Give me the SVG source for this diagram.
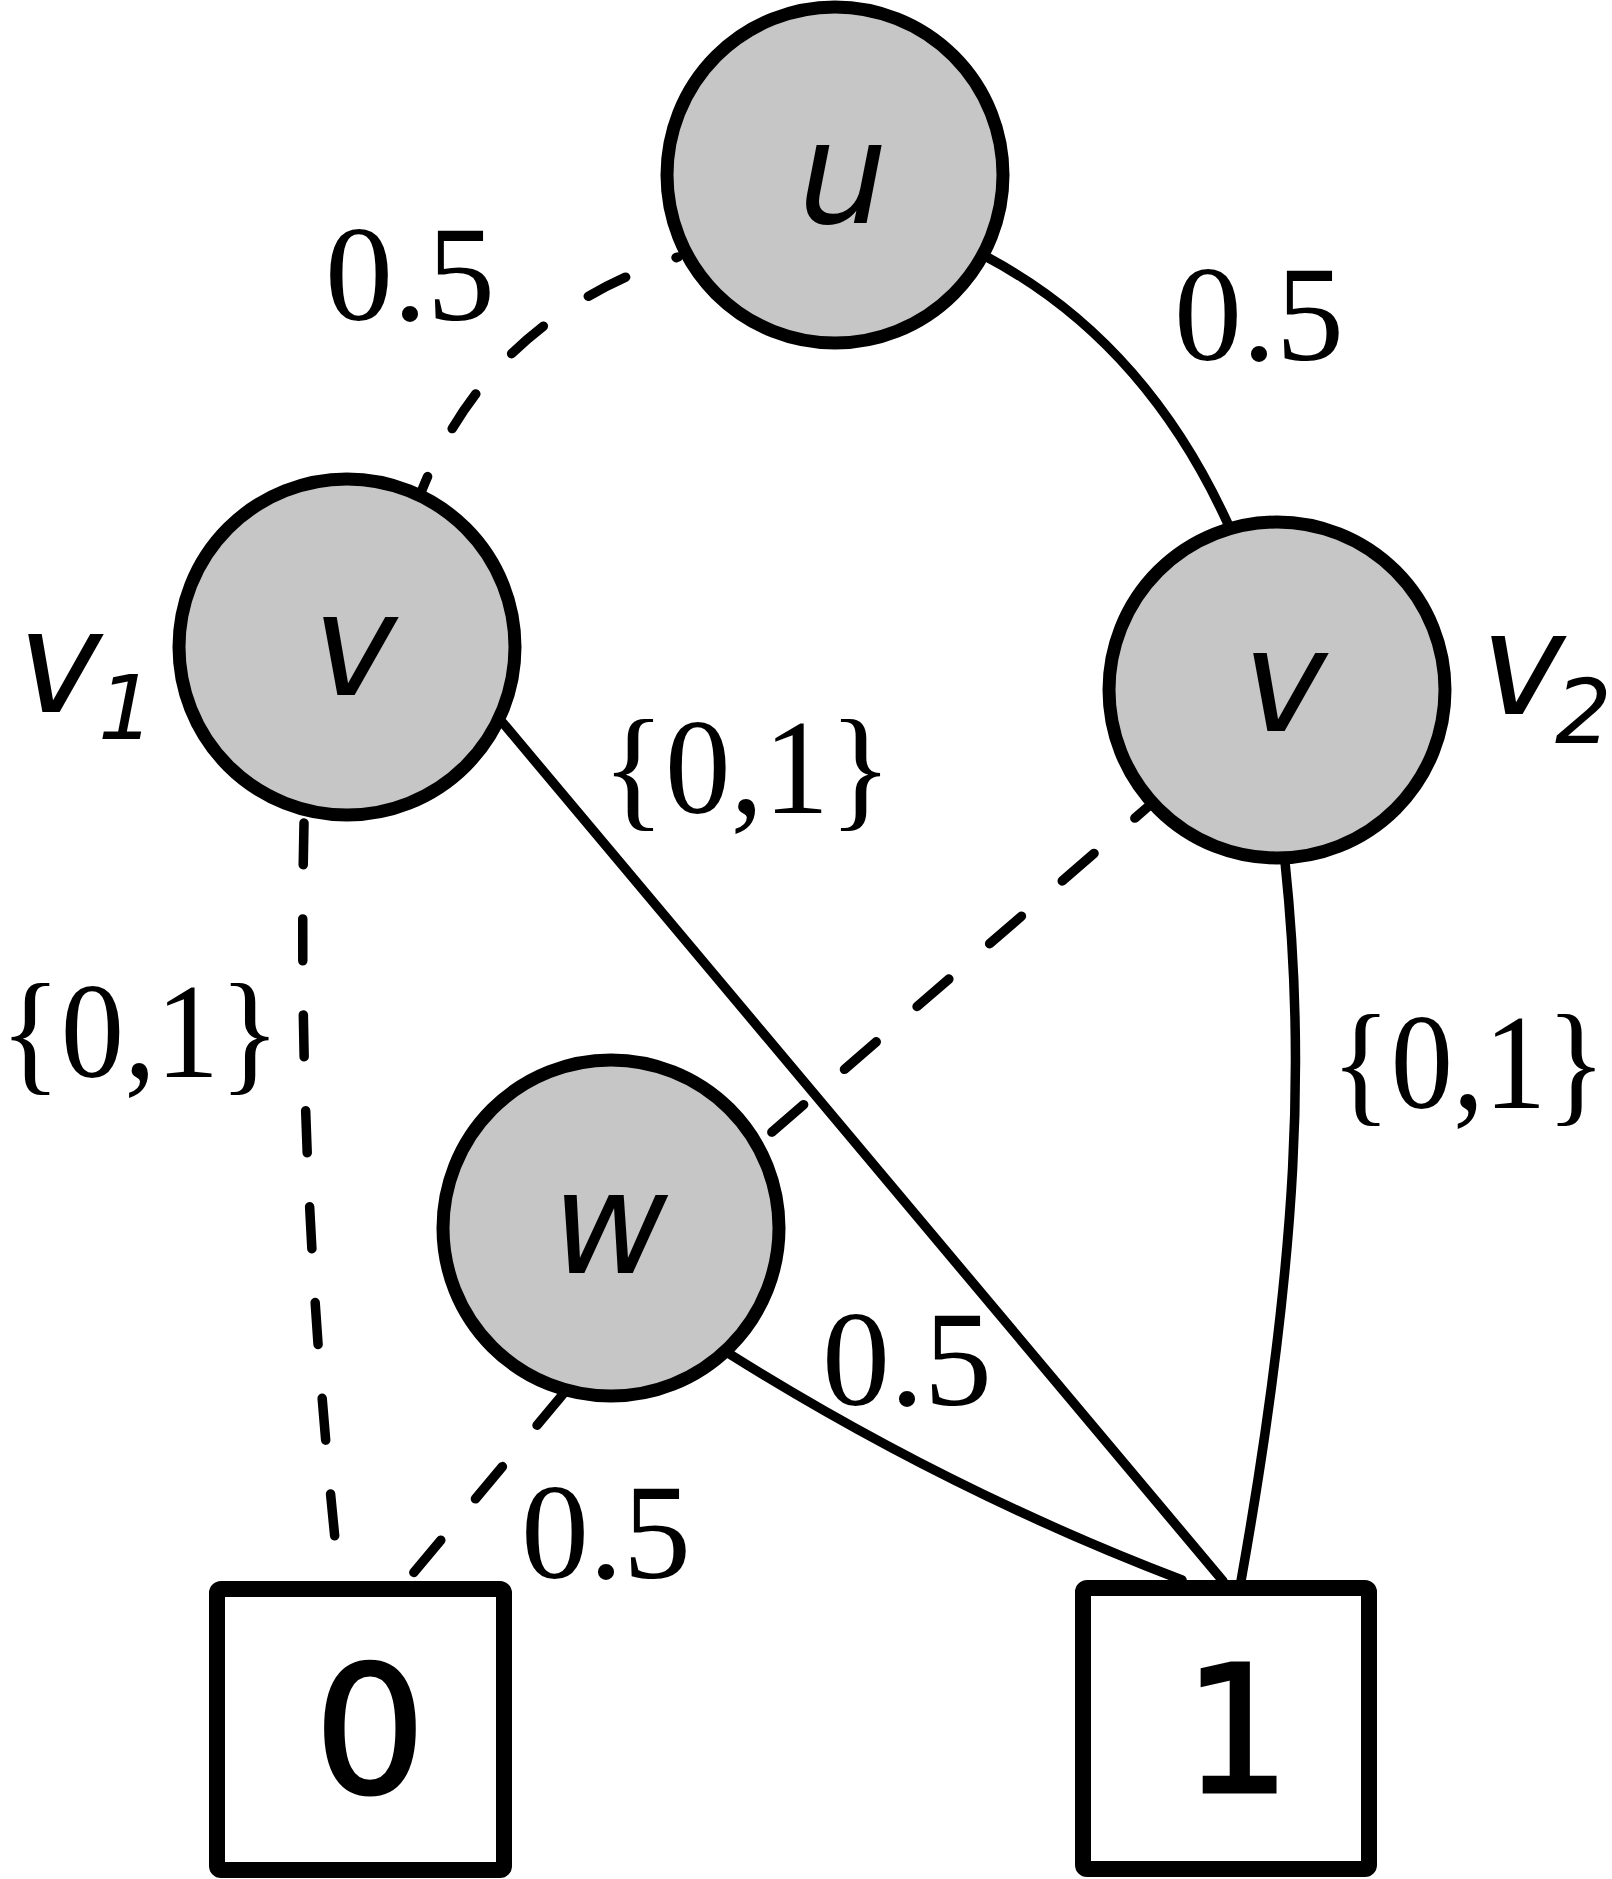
<svg xmlns="http://www.w3.org/2000/svg" width="1612" height="1879" viewBox="0 0 1612 1879">
<style>
.edge{fill:none;stroke:#000;stroke-width:9.5;stroke-linecap:round}
.dash{stroke-dasharray:42 54}
.node{fill:#c6c6c6;stroke:#000;stroke-width:13}
.term{fill:#fff;stroke:#000;stroke-width:16}
.nl{font-family:"DejaVu Sans",sans-serif;font-style:oblique;font-size:142px;text-anchor:middle}
.sub{font-family:"DejaVu Sans",sans-serif;font-style:oblique}
.el{font-family:"Liberation Serif","Times New Roman",serif;font-size:136px}
.tl{font-size:176px;text-anchor:middle;stroke:#000;stroke-width:3}
</style>
<rect width="1612" height="1879" fill="#fff"/>
<g id="connectors">
<path class="edge dash" style="stroke-dashoffset:40" d="M678,257 Q490,318 422,490"/>
<path class="edge" d="M985,256 Q1144,340 1228,524"/>
<path class="edge" d="M503,723 L1223,1581"/>
<path class="edge dash" d="M304,823 Q296,1170 338,1568"/>
<path class="edge dash" style="stroke-dashoffset:22" d="M1150,805 L757,1145"/>
<path class="edge" d="M1285,862 C1305,1050 1300,1250 1241,1581"/>
<path class="edge" d="M728,1353 Q946,1490 1182,1580"/>
<path class="edge dash" d="M564,1393 L405,1583"/>
<text class="el" x="325" y="320">0.5</text>
<text class="el" x="1174" y="360">0.5</text>
<text class="el" x="602" y="813" textLength="290" lengthAdjust="spacingAndGlyphs">{0,1}</text>
<text class="el" x="0" y="1077" textLength="280" lengthAdjust="spacingAndGlyphs">{0,1}</text>
<text class="el" x="1331" y="1108" textLength="275" lengthAdjust="spacingAndGlyphs">{0,1}</text>
<text class="el" x="822" y="1405">0.5</text>
<text class="el" x="521" y="1578">0.5</text>
</g>
<g id="node-u">
<circle class="node" cx="835" cy="175" r="168"/>
<text class="nl" x="843" y="223">u</text>
</g>
<g id="node-v1">
<circle class="node" cx="347" cy="647" r="168"/>
<text class="nl" x="355" y="695">v</text>
<text class="sub"><tspan x="18" y="712" font-size="142">v</tspan><tspan x="98" y="739" font-size="89">1</tspan></text>
</g>
<g id="node-v2">
<circle class="node" cx="1277" cy="690" r="168"/>
<text class="nl" x="1285" y="731">v</text>
<text class="sub"><tspan x="1481" y="714" font-size="142">v</tspan><tspan x="1555" y="743" font-size="89">2</tspan></text>
</g>
<g id="node-w">
<circle class="node" cx="611" cy="1228" r="168"/>
<text class="nl" x="610" y="1273">w</text>
</g>
<g id="term-0">
<rect class="term" x="217" y="1589" width="287" height="281" rx="4"/>
<text class="tl" x="370" y="1793" font-family="DejaVu Sans, sans-serif">0</text>
</g>
<g id="term-1">
<rect class="term" x="1083" y="1588" width="286" height="281" rx="4"/>
<text class="tl" x="1234" y="1792" font-family="DejaVu Sans Mono, monospace">1</text>
</g>
</svg>
